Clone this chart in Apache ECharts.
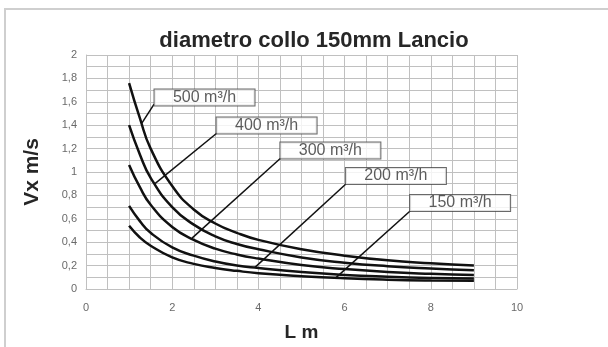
<!DOCTYPE html>
<html>
<head>
<meta charset="utf-8">
<script src="https://cdn.jsdelivr.net/npm/echarts@6/dist/echarts.min.js"></script>
<style>
html,body{margin:0;padding:0;background:#fff;}
#chart{width:608px;height:347px;}
</style>
</head>
<body>
<div id="chart"></div>
<script>
// ---- data ----
var titleText = 'diametro collo 150mm Lancio';
var xName = 'L m';
var yName = 'Vx m/s';
var seriesNames = ['500 m³/h', '400 m³/h', '300 m³/h', '200 m³/h', '150 m³/h'];
var lengths = [1, 1.25, 1.5, 2, 2.5, 3, 3.5, 4, 5, 6, 7, 8, 9];
var v500 = [1.76, 1.46, 1.20, 0.88, 0.68, 0.56, 0.48, 0.42, 0.34, 0.285, 0.245, 0.22, 0.20];
var v400 = [1.40, 1.15, 0.95, 0.70, 0.55, 0.45, 0.385, 0.34, 0.27, 0.225, 0.195, 0.175, 0.16];
var v300 = [1.06, 0.87, 0.72, 0.53, 0.42, 0.345, 0.295, 0.26, 0.205, 0.17, 0.145, 0.13, 0.12];
var v200 = [0.71, 0.58, 0.48, 0.355, 0.285, 0.235, 0.20, 0.18, 0.145, 0.12, 0.105, 0.095, 0.09];
var v150 = [0.54, 0.44, 0.37, 0.27, 0.215, 0.18, 0.155, 0.135, 0.11, 0.092, 0.08, 0.073, 0.07];
var xTicks = [0, 2, 4, 6, 8, 10];
var yTicks = [0, 0.2, 0.4, 0.6, 0.8, 1, 1.2, 1.4, 1.6, 1.8, 2];
// annotation anchors in data units: point on curve, box corner, box centre
var leaderFrom = [[1.30, 1.42], [1.60, 0.90], [2.46, 0.435], [3.92, 0.185], [5.80, 0.097]];
var leaderTo   = [[1.58, 1.58], [3.04, 1.333], [4.52, 1.12], [6.03, 0.897], [7.52, 0.667]];
var boxCentre  = [[2.75, 1.637], [4.19, 1.397], [5.67, 1.184], [7.19, 0.966], [8.68, 0.735]];

var allValues = [v500, v400, v300, v200, v150];
var FONT = 'Liberation Sans, Arial, sans-serif';

var chart = echarts.init(document.getElementById('chart'), null, {renderer: 'canvas'});
var series = [];
allValues.forEach(function (vals, i) {
  series.push({
    name: seriesNames[i],
    type: 'line',
    data: lengths.map(function (x, j) { return [x, vals[j]]; }),
    smooth: 0.5,
    symbol: 'none',
    lineStyle: {color: '#111', width: 2.5},
    z: 3,
    silent: true
  });
  series.push({
    type: 'line',
    data: [leaderFrom[i], leaderTo[i]],
    symbol: 'none',
    lineStyle: {color: '#111', width: 1.5},
    z: 4,
    silent: true
  });
});
series.push({
  type: 'scatter',
  symbolSize: 0,
  data: boxCentre.map(function (p, i) { return {value: p, name: seriesNames[i]}; }),
  label: {
    show: true,
    position: 'inside',
    formatter: '{b}',
    backgroundColor: '#fff',
    borderColor: '#444',
    borderWidth: 1,
    width: 92,
    height: 14,
    lineHeight: 14,
    padding: [1, 4],
    align: 'center',
    verticalAlign: 'middle',
    fontSize: 16,
    fontFamily: FONT,
    color: '#333'
  },
  z: 5,
  silent: true
});

var gridColor = '#c0c0c0';
chart.setOption({
  animation: false,
  backgroundColor: '#fff',
  title: {
    text: titleText,
    left: 309,
    textAlign: 'center',
    top: 25,
    textStyle: {fontSize: 22, fontWeight: 'bold', color: '#262626', fontFamily: FONT}
  },
  graphic: [{
    type: 'rect',
    shape: {x: 5, y: 9, width: 700, height: 400},
    style: {fill: 'none', stroke: '#cfcfcf', lineWidth: 2},
    silent: true
  }],
  grid: {left: 86, right: 91, top: 55, bottom: 58},
  xAxis: {
    type: 'value',
    min: xTicks[0], max: xTicks[xTicks.length - 1], interval: xTicks[1] - xTicks[0],
    name: xName, nameLocation: 'middle', nameGap: 34,
    nameTextStyle: {fontSize: 19, fontWeight: 'bold', color: '#262626', fontFamily: FONT},
    axisLine: {show: true, lineStyle: {color: gridColor, width: 1}},
    axisTick: {show: false},
    axisLabel: {fontSize: 11, color: '#6a6a6a', margin: 13, fontFamily: FONT},
    splitLine: {show: true, lineStyle: {color: gridColor, width: 1}},
    minorTick: {show: false, splitNumber: 4},
    minorSplitLine: {show: true, lineStyle: {color: gridColor, width: 1}}
  },
  yAxis: {
    type: 'value',
    min: yTicks[0], max: yTicks[yTicks.length - 1], interval: yTicks[1] - yTicks[0],
    name: yName, nameLocation: 'middle', nameGap: 43,
    nameTextStyle: {fontSize: 21, fontWeight: 'bold', color: '#262626', fontFamily: FONT},
    axisLine: {show: true, lineStyle: {color: gridColor, width: 1}},
    axisTick: {show: false},
    axisLabel: {
      fontSize: 11, color: '#6a6a6a', margin: 9, fontFamily: FONT,
      formatter: function (v) { return String(Math.round(v * 10) / 10).replace('.', ','); }
    },
    splitLine: {show: true, lineStyle: {color: gridColor, width: 1}},
    minorTick: {show: false, splitNumber: 2},
    minorSplitLine: {show: true, lineStyle: {color: gridColor, width: 1}}
  },
  series: series
});
</script>
</body>
</html>
